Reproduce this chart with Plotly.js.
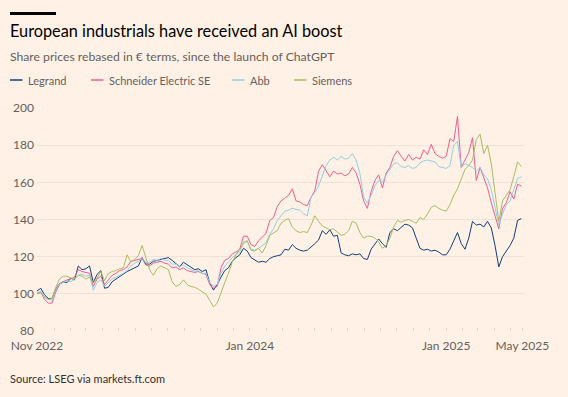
<!DOCTYPE html>
<html>
<head>
<meta charset="utf-8">
<script src="https://cdn.plot.ly/plotly-3.0.1.min.js"></script>
<style>
  html, body { margin: 0; padding: 0; background: #fff1e5; }
  #chart { width: 568px; height: 397px; }
</style>
</head>
<body>
<div id="chart"></div>
<script>
// Weekly samples starting 2022-11-30 (launch of ChatGPT), values rebased to 100
const startDate = '2022-11-30';
const endDate = '2025-05-26';

const legrand = [
  101.5, 103, 99.5, 97.5, 97.5, 102.5, 105.5, 106.5, 106, 108.5,
  107.5, 115, 113, 113.5, 115, 106, 110.5, 112.5, 103, 103.5,
  106.5, 108, 109.5, 110.5, 112, 113, 114, 115, 119.5, 116,
  116, 117.5, 118, 118.5, 119, 119.5, 118, 116.5, 114.5, 117,
  115.5, 114, 113, 113.5, 112, 113, 106, 102, 105, 109,
  112.5, 114, 117.5, 119.5, 121, 124.5, 123, 119.5, 118, 117,
  117.5, 117, 119, 120, 120.5, 121, 124, 123.5, 126.5, 124.5,
  123.5, 123, 123.5, 125, 127, 129, 134, 132, 134.5, 131,
  131.5, 122, 121, 120.5, 121.5, 121, 121.5, 119, 118.5, 124,
  127, 129.5, 127, 125, 133, 135, 134, 136, 137.5, 137,
  135.5, 130, 124.5, 123.5, 124, 123, 123.5, 122.5, 121, 121,
  124, 128.5, 133, 127, 124, 130, 139, 137, 137.5, 136,
  139, 135.5, 126, 114.5, 120, 123, 126, 130, 139.5, 140.5
];

const schneider = [
  100.5, 101, 97, 95, 95, 101, 105, 106.5, 107.5, 108,
  109, 113, 112, 111.5, 111, 104, 108, 109.5, 105, 107.5,
  110, 111, 112.5, 113, 114.5, 117.5, 118, 118.5, 119, 115.5,
  115, 116.5, 117, 117.5, 116.5, 116, 114, 114.5, 113, 114,
  112.5, 112, 111.5, 112, 111, 110.5, 105, 103, 104, 114,
  118, 119, 121.5, 122.5, 124, 131, 131, 126.5, 125.5, 128.5,
  130.5, 132.5, 139.5, 141, 147, 150, 151.5, 153, 156.5, 150,
  149.5, 148, 147.5, 152, 155.5, 166, 169.5, 166, 163, 166,
  164.5, 165, 163.5, 164.5, 168, 165, 159, 150, 146, 155,
  161, 164, 157, 165, 168, 174, 177, 174, 171.5, 175,
  172, 173.5, 172.5, 177.5, 175, 180.5, 175.5, 174, 173, 174,
  183.5, 182, 195.5, 168, 172, 176, 184, 161, 168, 163,
  157, 149, 142, 135, 146, 149, 155, 151, 159, 158
];

const abb = [
  100, 101.5, 98, 97, 96.5, 102, 105.5, 106, 107, 106.5,
  108, 110, 110.5, 109.5, 110, 102, 106, 107.5, 104, 106,
  108, 109, 110, 111, 112.5, 115, 116.5, 117.5, 119, 117,
  117, 118.5, 118, 119, 118, 118, 116, 116, 114.5, 115.5,
  114, 113, 112, 112.5, 111, 111, 106, 104, 105, 111,
  115, 117, 119.5, 121, 122.5, 128, 128.5, 124, 123.5, 124.5,
  126, 127.5, 132, 135, 139.5, 142, 144.5, 145, 146, 145.5,
  145, 143, 142, 152, 154.5, 158, 164, 169, 172, 173.5,
  172, 174, 172.5, 173, 175.5, 172, 165, 152, 149, 153,
  158, 161, 160, 164, 167, 170, 170.5, 168.5, 168, 169,
  167.5, 168, 170.5, 171.5, 172, 171.5, 171, 168.5, 168, 167.5,
  169, 180, 182, 168, 170, 169, 168, 166, 168, 164,
  162, 156, 146, 137, 143, 148, 150, 156, 162, 163
];

const siemens = [
  100, 100.5, 98.5, 97, 97.5, 103.5, 108, 109.5, 109.5, 108.5,
  108, 110, 109.5, 108, 109, 106, 108.5, 112, 107, 111,
  112, 112.5, 113.5, 114, 121, 117, 118.5, 120.5, 126, 120,
  113, 110, 113.5, 115, 114, 113, 106.5, 104, 105, 107.5,
  105, 104, 103.5, 102.5, 101, 100, 96.5, 93, 95, 101,
  106, 111, 117, 121, 124, 127, 128.5, 123.5, 123, 124.5,
  122, 126, 131.5, 133, 134, 138, 139.5, 140.5, 136, 134,
  133, 133.5, 133, 137, 142, 139, 136.5, 135.5, 134.5, 135,
  133.5, 131.5, 132, 134, 139, 138, 133, 130, 131, 131,
  130, 128, 124.5, 126, 130, 136, 139.5, 138.5, 139.5, 140,
  139, 138, 141, 140, 143, 146.5, 147.5, 146, 145, 144.5,
  148, 153, 156.5, 162, 167, 169, 172, 183, 186, 175.5,
  180, 170, 155, 139, 150, 153, 156, 163, 171, 168.5
];

const seriesNames = ['Legrand', 'Schneider Electric SE', 'Abb', 'Siemens'];
const seriesColors = ['#0f3f7f', '#eb5e8d', '#8fd0e3', '#a9bd62'];
const yTicks = [80, 100, 120, 140, 160, 180, 200];
const xLabelDates = ['2022-11-30', '2024-01-01', '2025-01-01', '2025-05-23'];
const xLabelText = ['Nov 2022', 'Jan 2024', 'Jan 2025', 'May 2025'];

const titleText = 'European industrials have received an AI boost';
const subtitleText = 'Share prices rebased in € terms, since the launch of ChatGPT';
const sourceText = 'Source: LSEG via markets.ft.com';

// weekly sampling grid
function weeklyDates(n) {
  const t0 = Date.parse(startDate + 'T00:00:00Z');
  const out = [];
  for (let i = 0; i < n; i++) out.push(new Date(t0 + i * 7 * 86400000).toISOString().slice(0, 10));
  return out;
}
const dates = weeklyDates(legrand.length);

// monthly minor ticks with labels at selected dates
const tickVals = [], tickText = [];
for (let y = 2022, m = 11; y < 2025 || (y === 2025 && m <= 5); ) {
  const d = y + '-' + String(m).padStart(2, '0') + '-01';
  if (d > startDate) { tickVals.push(d); tickText.push(''); }
  m++; if (m > 12) { m = 1; y++; }
}
xLabelDates.forEach((d, k) => {
  const idx = tickVals.indexOf(d);
  if (idx >= 0) tickText[idx] = xLabelText[k];
  else { tickVals.push(d); tickText.push(xLabelText[k]); }
});

const W = 568, H = 397;
const M = { l: 37, r: 44, t: 108, b: 66 };
const PW = W - M.l - M.r, PH = H - M.t - M.b;
const px = x => (x - M.l) / PW;
const py = y => (H - M.b - y) / PH;

const FONT = 'Lato, "Noto Sans", sans-serif';
const GREY = '#66605c';

const allSeries = [legrand, schneider, abb, siemens];
const traces = allSeries.map((vals, k) => ({
  type: 'scatter', mode: 'lines', x: dates, y: vals, name: seriesNames[k],
  line: { color: seriesColors[k], width: 1 }, hoverinfo: 'skip', showlegend: false
}));

const shapes = [
  { type: 'rect', xref: 'paper', yref: 'paper', x0: px(10), x1: px(56), y0: py(15), y1: py(12),
    fillcolor: '#000000', line: { width: 0 } }
];
const annotations = [
  { xref: 'paper', yref: 'paper', x: px(8), y: py(56), xanchor: 'left', yanchor: 'middle',
    text: subtitleText, showarrow: false, font: { family: FONT, size: 12.2, color: GREY } },
  { xref: 'paper', yref: 'paper', x: px(8), y: py(378), xanchor: 'left', yanchor: 'middle',
    text: sourceText, showarrow: false, font: { family: FONT, size: 11, color: '#33302e' } }
];
const legendLineX = [10, 91, 232, 294];
seriesNames.forEach((n, k) => {
  const x0 = legendLineX[k];
  shapes.push({ type: 'line', xref: 'paper', yref: 'paper', x0: px(x0), x1: px(x0 + 12.5),
    y0: py(80), y1: py(80), line: { color: seriesColors[k], width: 1.5 } });
  annotations.push({ xref: 'paper', yref: 'paper', x: px(x0 + 16), y: py(80), xanchor: 'left', yanchor: 'middle',
    text: n, showarrow: false, font: { family: FONT, size: 11, color: GREY } });
});

const layout = {
  width: W, height: H,
  paper_bgcolor: '#fff1e5', plot_bgcolor: '#fff1e5',
  margin: M,
  title: { text: titleText, xref: 'container', yref: 'container', x: 10 / W, y: 1 - 31 / H,
    xanchor: 'left', yanchor: 'middle', font: { family: FONT, size: 16.3, color: '#000000' } },
  xaxis: {
    type: 'date', range: [startDate, endDate], tickmode: 'array', tickvals: tickVals, ticktext: tickText,
    ticks: 'inside', ticklen: 3, tickcolor: '#e3d4c7', tickwidth: 1,
    showgrid: false, zeroline: false, showline: false,
    tickfont: { family: FONT, size: 12, color: GREY }, ticklabelstandoff: 6
  },
  yaxis: {
    range: [80, 200], tickmode: 'array', tickvals: yTicks,
    gridcolor: '#f2e2d5', gridwidth: 1, zeroline: false, showline: false, ticks: '',
    tickfont: { family: FONT, size: 12, color: GREY }, ticklabelstandoff: 2
  },
  shapes: shapes, annotations: annotations, showlegend: false
};

Plotly.newPlot('chart', traces, layout, { staticPlot: true, displayModeBar: false });
</script>
</body>
</html>
